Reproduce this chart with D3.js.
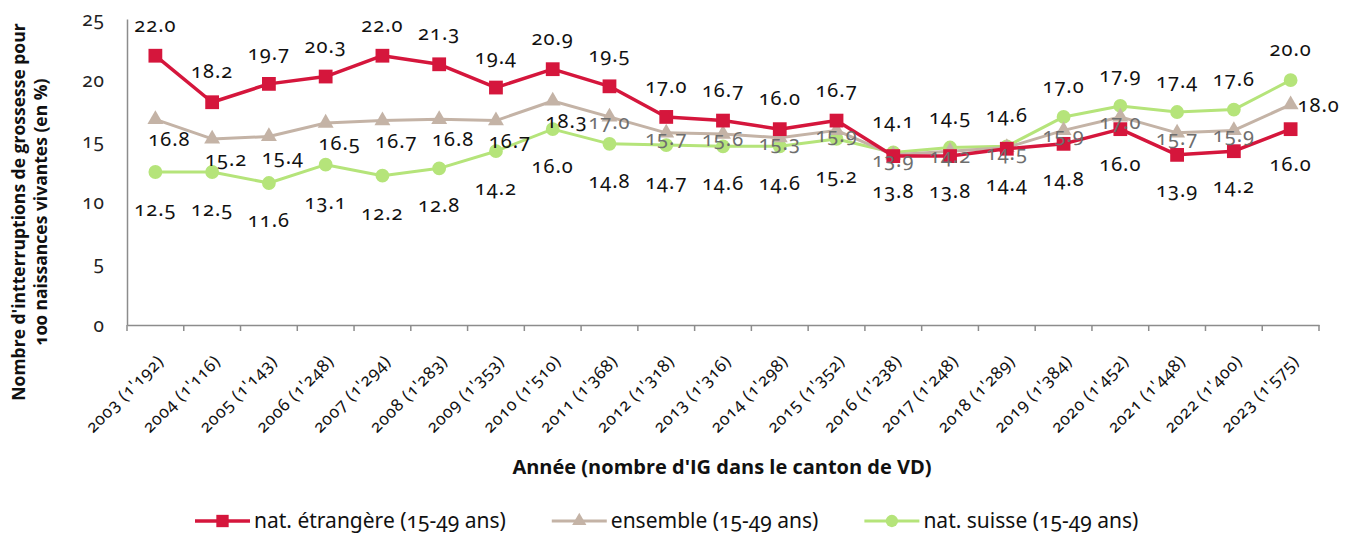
<!DOCTYPE html>
<html lang="fr">
<head>
    <meta charset="UTF-8">
    <title>Interruptions de grossesse VD</title>
    <script src="https://d3js.org/d3.v7.min.js"></script>
    <style>
        body {
            margin: 0;
            background: #ffffff;
        }
        svg text {
            font-family: "Noto Sans", sans-serif;
            font-variant-numeric: oldstyle-nums;
        }
        .axis-title {
            font-family: "Open Sans", sans-serif !important;
            font-weight: bold;
            fill: #111;
        }
    </style>
</head>
<body>
<svg id="chart" width="1352" height="536"></svg>
<script>
    // data
    const years = ["2003 (1'192)", "2004 (1'116)", "2005 (1'143)", "2006 (1'248)", "2007 (1'294)",
        "2008 (1'283)", "2009 (1'353)", "2010 (1'510)", "2011 (1'368)", "2012 (1'318)",
        "2013 (1'316)", "2014 (1'298)", "2015 (1'352)", "2016 (1'238)", "2017 (1'248)",
        "2018 (1'289)", "2019 (1'384)", "2020 (1'452)", "2021 (1'448)", "2022 (1'400)",
        "2023 (1'575)"];
    const etrangere = [22.0, 18.2, 19.7, 20.3, 22.0, 21.3, 19.4, 20.9, 19.5, 17.0, 16.7,
        16.0, 16.7, 13.8, 13.8, 14.4, 14.8, 16.0, 13.9, 14.2, 16.0];
    const ensemble = [16.8, 15.2, 15.4, 16.5, 16.7, 16.8, 16.7, 18.3, 17.0, 15.7, 15.6,
        15.3, 15.9, 13.9, 14.2, 14.5, 15.9, 17.0, 15.7, 15.9, 18.0];
    const suisse = [12.5, 12.5, 11.6, 13.1, 12.2, 12.8, 14.2, 16.0, 14.8, 14.7, 14.6,
        14.6, 15.2, 14.1, 14.5, 14.6, 17.0, 17.9, 17.4, 17.6, 20.0];
    const yTicks = [0, 5, 10, 15, 20, 25];

    const svg = d3.select("#chart");
    const margin = { top: 19, right: 33, bottom: 211, left: 127 };
    const width = 1352 - margin.left - margin.right;
    const height = 536 - margin.top - margin.bottom;

    const x = d3.scaleBand().domain(years).range([0, width]);
    const y = d3.scaleLinear().domain([0, 25]).range([height, 0]);
    const cx = d => x(d) + x.bandwidth() / 2;

    const g = svg.append("g").attr("transform", `translate(${margin.left},${margin.top})`);

    // y axis
    const yAxis = g.append("g").call(d3.axisLeft(y).tickValues(yTicks).tickSize(0).tickPadding(22));
    yAxis.select(".domain").attr("stroke", "#8c8c8c").attr("stroke-width", 1.5);
    yAxis.selectAll("text").attr("font-size", 19).attr("letter-spacing", 1).attr("fill", "#222");

    // x axis
    const xAxis = g.append("g").attr("transform", `translate(0,${height})`)
        .call(d3.axisBottom(x).tickSize(0).tickFormat(""));
    xAxis.select(".domain").attr("stroke", "#8c8c8c").attr("stroke-width", 1.5);
    // tick marks between categories
    g.selectAll(".xtick")
        .data(d3.range(years.length + 1))
        .enter().append("line")
        .attr("x1", i => i * x.step()).attr("x2", i => i * x.step())
        .attr("y1", height).attr("y2", height + 6)
        .attr("stroke", "#8c8c8c").attr("stroke-width", 1.5);
    g.selectAll(".xlabel")
        .data(years)
        .enter().append("text")
        .attr("transform", d => `translate(${cx(d) + 5},${height + 33}) rotate(-45)`)
        .attr("text-anchor", "end")
        .attr("dy", "0.35em")
        .attr("font-size", 17)
        .attr("letter-spacing", 0.7)
        .attr("fill", "#111")
        .text(d => d);

    // titles
    svg.append("text")
        .attr("class", "axis-title")
        .attr("x", 722).attr("y", 474)
        .attr("text-anchor", "middle")
        .attr("font-size", 20)
        .text("Année (nombre d'IG dans le canton de VD)");
    const yt = svg.append("text")
        .attr("class", "axis-title")
        .attr("transform", "translate(0,212) rotate(-90)")
        .attr("text-anchor", "middle")
        .attr("font-size", 17.5);
    yt.append("tspan").attr("x", 0).attr("y", 25).text("Nombre d'intterruptions de grossesse pour");
    yt.append("tspan").attr("x", 0).attr("y", 47).text("100 naissances vivantes (en %)");

    const series = [
        { name: "nat. étrangère (15-49 ans)", values: etrangere, color: "#d5163c", marker: d3.symbolSquare, size: 190, lw: 3.5 },
        { name: "ensemble (15-49 ans)", values: ensemble, color: "#c4b3a6", marker: d3.symbolTriangle, size: 110, lw: 3 },
        { name: "nat. suisse (15-49 ans)", values: suisse, color: "#b5e47a", marker: d3.symbolCircle, size: 150, lw: 3 }
    ];

    const line = d3.line().x((v, i) => cx(years[i])).y(v => y(v));

    // draw in order: green, gray, red (red on top)
    [2, 1, 0].forEach(k => {
        const s = series[k];
        g.append("path")
            .datum(s.values)
            .attr("d", line)
            .attr("fill", "none")
            .attr("stroke", s.color)
            .attr("stroke-width", s.lw)
            .attr("stroke-linejoin", "round");
        g.selectAll(null)
            .data(s.values)
            .enter().append("path")
            .attr("transform", (v, i) => `translate(${cx(years[i])},${y(v)})`)
            .attr("d", d3.symbol().type(s.marker).size(s.size))
            .attr("fill", s.color);
    });

    // data labels
    const fmt = d3.format(".1f");
    function labelPos(k, i, v) {
        const px = cx(years[i]), py = y(v);
        if (k === 0) return i < 13 ? [px, py - 31, "middle"] : [px, py + 35, "middle"];
        if (k === 2) return i < 13 ? [px, py + 37, "middle"] : [px, py - 31, "middle"];
        if (i < 8) return [px + 14, py + 20, "middle"];
        if (i < years.length - 1) return [px, py + 5, "middle"];
        return [px + 7, py, "start"];
    }
    series.forEach((s, k) => {
        g.selectAll(null)
            .data(s.values)
            .enter().append("text")
            .each(function (v, i) {
                const p = labelPos(k, i, v);
                d3.select(this)
                    .attr("x", p[0]).attr("y", p[1])
                    .attr("text-anchor", p[2])
                    .attr("dy", "0.35em")
                    .attr("font-size", 20)
                    .attr("letter-spacing", 1)
                    .attr("fill", (k === 1 && i >= 8 && i < years.length - 1) ? "#6e6e6e" : "#111")
                    .text(fmt(v));
            });
    });

    // legend
    const legend = svg.append("g").attr("transform", "translate(195,521)");
    let lx = 0;
    series.forEach(s => {
        const item = legend.append("g").attr("transform", `translate(${lx},0)`);
        item.append("line").attr("x1", 0).attr("x2", 55).attr("y1", 0).attr("y2", 0)
            .attr("stroke", s.color).attr("stroke-width", s.lw);
        item.append("path").attr("transform", "translate(27.5,0)")
            .attr("d", d3.symbol().type(s.marker).size(s.size * 0.8))
            .attr("fill", s.color);
        const t = item.append("text").attr("x", 59).attr("dy", "0.35em")
            .attr("font-size", 21).attr("fill", "#111").text(s.name);
        lx += 59 + t.node().getComputedTextLength() + 46;
    });
</script>
</body>
</html>
